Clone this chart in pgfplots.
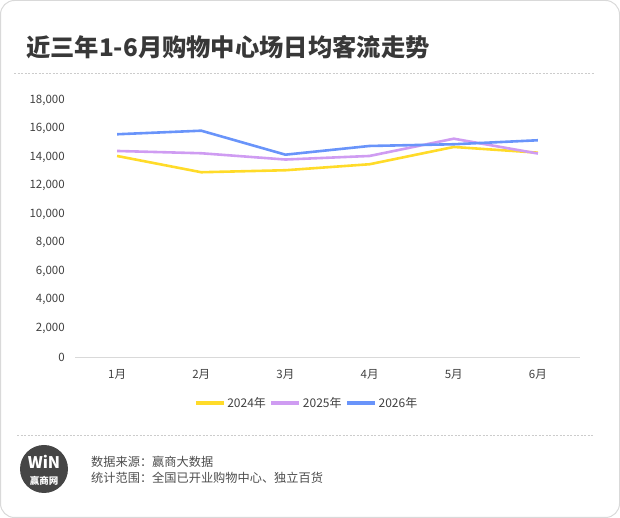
\documentclass[border=0pt]{standalone}
\usepackage{fontspec}
\setmainfont{Noto Sans CJK SC}
\usepackage{pgfplots}
\pgfplotsset{compat=1.18}
\definecolor{cy}{HTML}{FFDB29}
\definecolor{cp}{HTML}{CF9CF2}
\definecolor{cb}{HTML}{6994FA}
\definecolor{txt}{HTML}{404040}
\begin{document}
\begin{tikzpicture}[x=1pt,y=1pt]
\useasboundingbox (0,0) rectangle (620,518);
\draw[draw=black!15, line width=1pt, rounded corners=14pt] (0.5,0.5) rectangle (619.5,517.5);
\node[anchor=west, inner sep=0, font=\fontsize{24.3}{26}\selectfont\bfseries, text=black!78] at (26,471) {近三年1-6月购物中心场日均客流走势};
\draw[black!20, line width=0.6pt, dash pattern=on 2pt off 1.5pt] (14,445) -- (594,445);
\draw[black!20, line width=0.6pt, dash pattern=on 2pt off 1.5pt] (17,83) -- (594,83);
\begin{axis}[
  at={(75pt,161pt)}, anchor=south west, scale only axis,
  width=505pt, height=257pt,
  xmin=0.5, xmax=6.5, ymin=0, ymax=18000,
  axis x line=bottom, axis y line=left,
  axis line style={-},
  x axis line style={draw=black!15, line width=0.8pt},
  y axis line style={draw=none},
  ytick={0,2000,...,18000},
  y tick style={draw=none},
  /pgf/number format/assume math mode=true,
  /pgf/number format/1000 sep={,},
  scaled y ticks=false,
  yticklabel style={font=\fontsize{11.5}{13}\selectfont, text=txt, inner sep=0pt, xshift=-8pt},
  xtick={1,...,6},
  xticklabels={1月,2月,3月,4月,5月,6月},
  x tick style={draw=none},
  xticklabel style={font=\fontsize{11.5}{13}\selectfont, text=txt, inner sep=0pt, yshift=-10pt},
  extra x ticks={0.5,1.5,...,6.5},
  extra x tick labels={},
  extra x tick style={tick align=outside, major tick length=5pt, tick style={draw=black!15, line width=0.8pt}},
  legend columns=3,
  legend style={at={(0.459,-0.179)}, anchor=center, draw=none, fill=none,
    font=\fontsize{12}{14}\selectfont, text=txt,
    /tikz/every even column/.append style={column sep=2pt}},
  legend image code/.code={\draw[#1, line width=3pt] (0pt,0pt) -- (28pt,0pt);},
  clip=false,
]
\addplot[cy, line width=2.6pt, line join=round] coordinates {(1,14080)(2,12940)(3,13080)(4,13500)(5,14710)(6,14310)};
\addlegendentry{2024年}
\addplot[cp, line width=2.6pt, line join=round] coordinates {(1,14430)(2,14270)(3,13830)(4,14080)(5,15290)(6,14250)};
\addlegendentry{2025年}
\addplot[cb, line width=2.6pt, line join=round] coordinates {(1,15600)(2,15850)(3,14170)(4,14780)(5,14900)(6,15180)};
\addlegendentry{2026年}
\end{axis}
\fill[black!73] (44,49) circle (24);
\node[white, inner sep=0, font=\bfseries\fontsize{16}{16}\selectfont] at (44,56) {WiN};
\node[white, inner sep=0, font=\bfseries\fontsize{9.5}{10}\selectfont] at (44,37) {赢商网};
\node[anchor=west, inner sep=0, font=\fontsize{12.2}{14}\selectfont, text=black!70] at (91,56) {数据来源：赢商大数据};
\node[anchor=west, inner sep=0, font=\fontsize{12.2}{14}\selectfont, text=black!70] at (91,40) {统计范围：全国已开业购物中心、独立百货};
\end{tikzpicture}
\end{document}
